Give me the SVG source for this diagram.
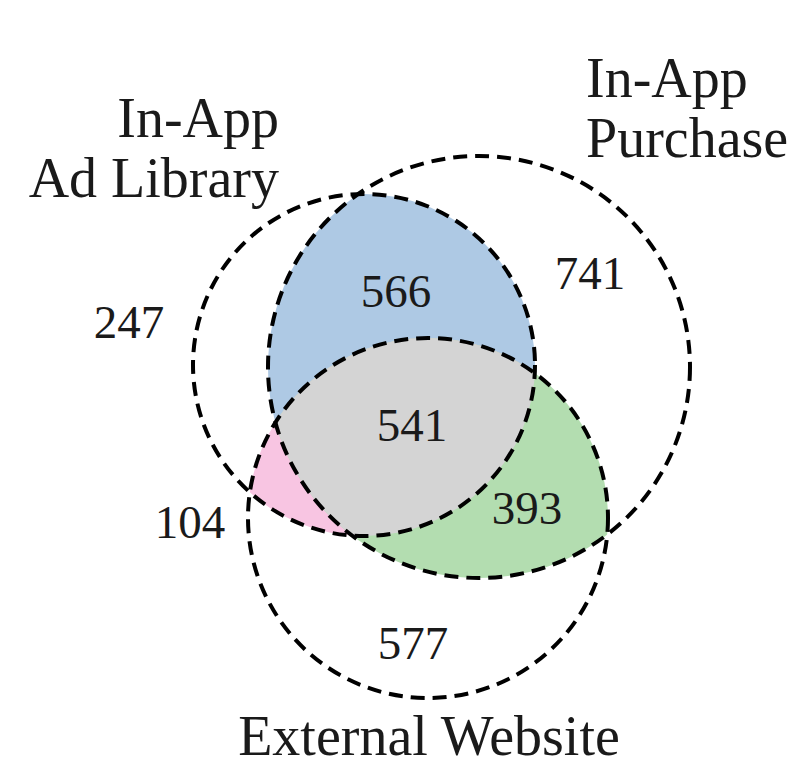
<svg xmlns="http://www.w3.org/2000/svg" width="794" height="768" viewBox="0 0 794 768">
<style>
.ring{fill:none;stroke:#000;stroke-width:4;stroke-dasharray:14 8}
.lbl{font-family:"Liberation Serif","DejaVu Serif",serif;font-size:56px;fill:#1a1a1a}
.num{font-family:"Liberation Serif","DejaVu Serif",serif;font-size:47px;fill:#1a1a1a;text-anchor:middle}
</style>
<defs>
<clipPath id="cA"><circle cx="364" cy="365" r="171"/></clipPath>
<clipPath id="cB"><circle cx="479" cy="367" r="211"/></clipPath>
<clipPath id="cAB" clip-path="url(#cA)"><circle cx="479" cy="367" r="211"/></clipPath>
</defs>
<rect width="794" height="768" fill="#fff"/>
<g id="regions">
<circle cx="479" cy="367" r="211" fill="#aec9e4" clip-path="url(#cA)"/>
<circle cx="428" cy="518" r="180" fill="#f8c5e2" clip-path="url(#cA)"/>
<circle cx="428" cy="518" r="180" fill="#b3ddb0" clip-path="url(#cB)"/>
<circle cx="428" cy="518" r="180" fill="#d4d4d4" clip-path="url(#cAB)"/>
</g>
<g id="connectors"></g>
<g id="set-ad-library">
<circle class="ring" cx="364" cy="365" r="171"/>
<text class="lbl" x="279" y="137" text-anchor="end">In-App</text>
<text class="lbl" x="279" y="197" text-anchor="end">Ad Library</text>
</g>
<g id="set-purchase">
<circle class="ring" cx="479" cy="367" r="211"/>
<text class="lbl" x="586" y="97">In-App</text>
<text class="lbl" x="586" y="157">Purchase</text>
</g>
<g id="set-external">
<circle class="ring" cx="428" cy="518" r="180"/>
<text class="lbl" x="429" y="755" text-anchor="middle">External Website</text>
</g>
<g id="counts">
<text class="num" x="129" y="338">247</text>
<text class="num" x="396" y="307">566</text>
<text class="num" x="590" y="289">741</text>
<text class="num" x="412" y="441">541</text>
<text class="num" x="190" y="538">104</text>
<text class="num" x="527" y="524">393</text>
<text class="num" x="413" y="659">577</text>
</g>
</svg>
